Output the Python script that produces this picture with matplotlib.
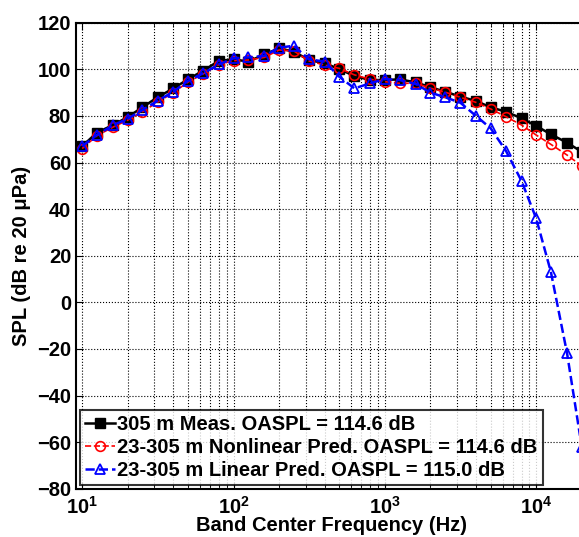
import numpy as np
import matplotlib
matplotlib.use("Agg")
import matplotlib.pyplot as plt
from matplotlib.ticker import LogLocator

# one-third octave band centres (Hz)
freq = [10, 12.5, 16, 20, 25, 31.5, 40, 50, 63, 80, 100, 125, 160, 200, 250,
        315, 400, 500, 630, 800, 1000, 1250, 1600, 2000, 2500, 3150, 4000,
        5000, 6300, 8000, 10000, 12500, 16000, 20000]

meas = [67.0, 72.8, 76.1, 79.5, 83.7, 88.0, 91.8, 95.7, 99.4, 103.6, 104.3,
        103.3, 106.4, 109.0, 107.6, 104.0, 102.6, 100.1, 97.1, 95.4, 95.4,
        95.7, 94.4, 92.3, 90.4, 88.3, 86.4, 83.7, 81.8, 79.0, 75.7, 72.1,
        68.5, 64.6]

nonlin = [66.0, 71.5, 75.2, 78.2, 81.8, 85.9, 90.0, 94.5, 98.0, 102.0, 103.7,
          104.0, 105.1, 108.3, 107.9, 103.6, 101.8, 100.4, 97.6, 95.7, 94.7,
          94.0, 94.0, 91.9, 90.2, 88.0, 85.8, 83.0, 79.7, 76.1, 71.8, 67.8,
          63.2, 58.5]

lin = [67.0, 71.8, 76.0, 78.8, 82.5, 86.5, 90.4, 95.0, 98.3, 102.1, 104.7,
       105.1, 105.8, 109.3, 110.1, 104.3, 103.3, 96.8, 91.8, 94.0, 95.8,
       95.4, 93.7, 90.0, 88.0, 85.7, 80.0, 74.7, 65.1, 52.1, 36.0, 13.1,
       -21.9, -62.0]

labels = ["305 m Meas. OASPL = 114.6 dB",
          "23-305 m Nonlinear Pred. OASPL = 114.6 dB",
          "23-305 m Linear Pred. OASPL = 115.0 dB"]

yticks = [-80, -60, -40, -20, 0, 20, 40, 60, 80, 100, 120]

plt.rcParams['font.family'] = ['Liberation Sans', 'DejaVu Sans']
plt.rcParams['mathtext.fontset'] = 'custom'
plt.rcParams['mathtext.rm'] = 'Liberation Sans:bold'
plt.rcParams['mathtext.it'] = 'Liberation Sans:bold'

fs = 14.5

fig = plt.figure(figsize=(5.79, 5.37), dpi=100)
ax = fig.add_axes([76/579, (537-488.7)/537, 512/579, 466/537])

ax.semilogx(freq, meas, "-s", color="black", lw=1.8, ms=6.5,
            mfc="black", label=labels[0])
ax.semilogx(freq, nonlin, "--o", color="red", lw=1.2, ms=7,
            mfc="none", mew=1.2, label=labels[1])
ax.semilogx(freq, lin, "--^", color="blue", lw=1.8, ms=7,
            mfc="none", mew=1.3, label=labels[2])

ax.set_xlim(9.1, 22000)
ax.set_ylim(-80, 120)
ax.set_yticks(yticks)
ax.xaxis.set_major_locator(LogLocator(base=10, numticks=10))
ax.xaxis.set_minor_locator(LogLocator(base=10, subs=np.arange(2, 10), numticks=20))
ax.grid(True, which="both", axis="x", color="black", ls=":", lw=0.8)
ax.grid(True, which="major", axis="y", color="black", ls=":", lw=0.8)
ax.tick_params(direction="in", which="both", top=True, right=True,
               labelsize=fs)
ax.tick_params(which="major", length=5)
ax.tick_params(which="minor", length=3)
ax.tick_params(axis="x", pad=5)
for lab in ax.get_xticklabels() + ax.get_yticklabels():
    lab.set_fontweight("bold")
for s in ax.spines.values():
    s.set_linewidth(1.5)

ax.set_xlabel("Band Center Frequency (Hz)", fontsize=fs, fontweight="bold",
              labelpad=-1)
ax.set_ylabel("SPL (dB re 20 \u03bcPa)", fontsize=fs, fontweight="bold",
              labelpad=4)

leg = ax.legend(loc="lower left", prop={"size": fs, "weight": "bold"},
                frameon=True, fancybox=False, edgecolor="black",
                borderaxespad=0.2, handlelength=1.5, handletextpad=0.1,
                labelspacing=0.2, borderpad=0.25)
leg.get_frame().set_linewidth(1.5)

fig.savefig("out.png", dpi=100)
